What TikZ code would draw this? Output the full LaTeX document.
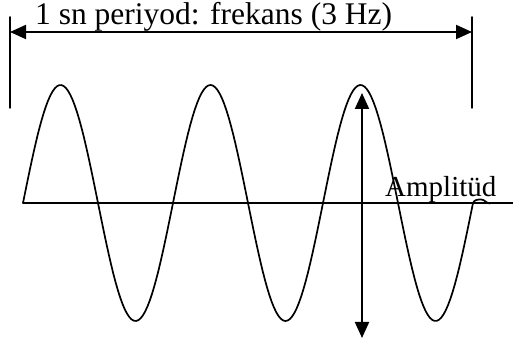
\documentclass[tikz,border=0pt]{standalone}
\usepackage{fontspec}
\setmainfont{Liberation Serif}
\usetikzlibrary{arrows.meta}

\begin{document}
\begin{tikzpicture}[x=1pt, y=1pt, line cap=round, line join=round,
    bar/.style={line width=1.5pt},
    dimarrow/.style={line width=2pt, {Triangle[length=16pt,width=14pt]}-{Triangle[length=16pt,width=14pt]}},
    wave/.style={line width=1.7pt}]

  % parameters
  \def\yAxis{144}   % height of the time axis
  \def\amp{118}     % amplitude of the wave
  \def\per{150}     % length of one period
  \def\xStart{23}   % start of the wave
  \def\xEnd{473}    % end of three periods

  \useasboundingbox (0,0) rectangle (513,347);

  % time axis
  \coordinate (axisL) at (\xStart,\yAxis);
  \coordinate (axisR) at (513,\yAxis);
  \draw[bar] (axisL) -- (axisR);

  % three periods of the wave, with a small bump at its end
  \draw[wave] plot[domain=\xStart:\xEnd, samples=200]
      (\x, {\yAxis + \amp*sin((360/\per)*(\x-\xStart))})
    to[out=70, in=180] (481,147.5) to[out=0, in=180] (490,143.5);

  % one-second bars and the period arrow
  \coordinate (barLtop) at (10,330);
  \coordinate (barLbot) at (10,239);
  \coordinate (barRtop) at (472,330);
  \coordinate (barRbot) at (472,239);
  \draw[bar] (barLtop) -- (barLbot);
  \draw[bar] (barRtop) -- (barRbot);
  \coordinate (perL) at (10,315);
  \coordinate (perR) at (472,315);
  \draw[dimarrow] (perL) -- (perR);
  \node[anchor=base west, inner sep=0pt, font=\fontsize{31.5}{34}\selectfont]
    (period) at (35,322) {1 sn periyod: frekans (3 Hz)};

  % amplitude arrow
  \coordinate (ampTop) at (362,254);
  \coordinate (ampBot) at (362,9);
  \draw[dimarrow] (ampTop) -- (ampBot);
  \node[anchor=base west, inner sep=0pt, font=\fontsize{29}{32}\selectfont]
    (amplitude) at (385,150) {Amplitüd};

\end{tikzpicture}
\end{document}
